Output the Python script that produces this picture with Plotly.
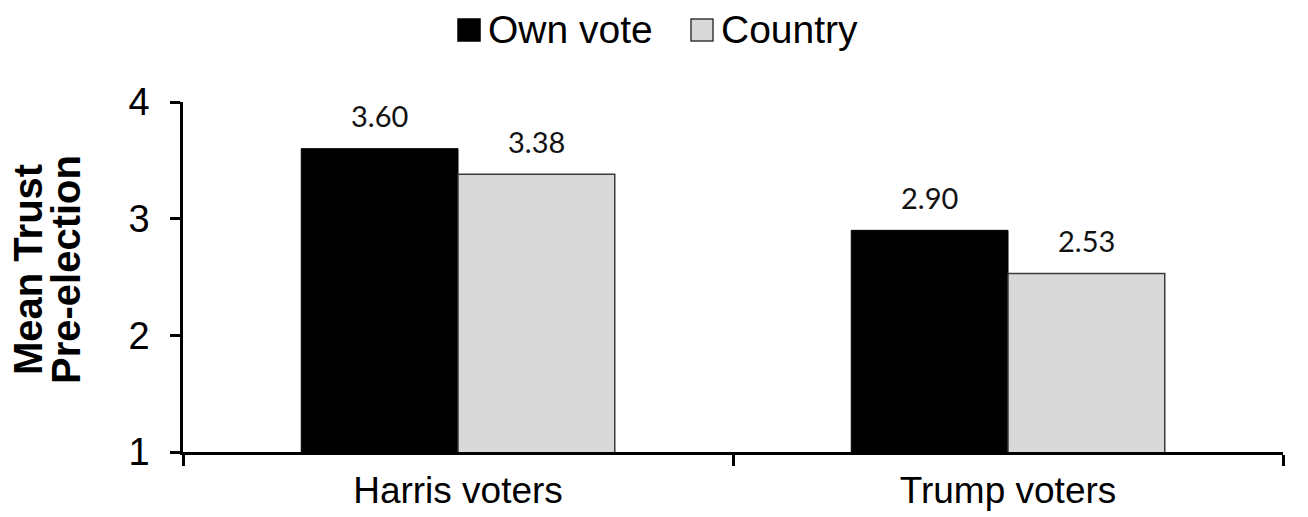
import plotly.graph_objects as go

# Mean pre-election trust by voter group
groups = ["Harris voters", "Trump voters"]
own_vote = [3.60, 2.90]
country = [3.38, 2.53]
series_names = ["Own vote", "Country"]
y_ticks = [1, 2, 3, 4]

BLACK = "#000000"
GRAY = "#D9D9D9"
EDGE = "#3A3A3A"
ARIAL = "Liberation Sans, Arial, sans-serif"
LABEL_FONT = "Lato, Carlito, Calibri, sans-serif"

W, H = 1308, 517
M = dict(l=183, r=25, t=102, b=65)
BARGAP = 0.43
pw = W - M["l"] - M["r"]
ph = H - M["t"] - M["b"]

fig = go.Figure()
fig.add_trace(go.Bar(
    x=groups, y=own_vote, name=series_names[0],
    marker=dict(color=BLACK, line=dict(color=BLACK, width=1)),
    showlegend=False,
))
fig.add_trace(go.Bar(
    x=groups, y=country, name=series_names[1],
    marker=dict(color=GRAY, line=dict(color=EDGE, width=1.5)),
    showlegend=False,
))

# Value labels above each bar
half = (1 - BARGAP) / 4
annotations = []
for i, g in enumerate(groups):
    for vals, off in ((own_vote, -half), (country, half)):
        annotations.append(dict(
            x=i + off, y=vals[i], xref="x", yref="y",
            text=f"{vals[i]:.2f}", showarrow=False, yshift=33,
            font=dict(family=LABEL_FONT, size=29, color="#111111"),
        ))

# Two-line y-axis title, one annotation per line
for text, px in (("Mean Trust", 28), ("Pre-election", 66)):
    annotations.append(dict(
        x=(px - M["l"]) / pw, y=(H - M["b"] - 270) / ph,
        xref="paper", yref="paper", text=f"<b>{text}</b>", textangle=-90,
        showarrow=False, xanchor="center", yanchor="middle",
        font=dict(family=ARIAL, size=40, color=BLACK),
    ))

# Legend drawn as swatches and labels across the top
legend_y = (H - M["b"] - 30) / ph
shapes = []
for name, fill, edge, sx, tx in ((series_names[0], BLACK, BLACK, 458, 486),
                                 (series_names[1], GRAY, EDGE, 691, 719)):
    shapes.append(dict(
        type="rect", xref="paper", yref="paper",
        xsizemode="pixel", ysizemode="pixel",
        xanchor=(sx - M["l"]) / pw, yanchor=legend_y,
        x0=0, x1=22, y0=-11, y1=11,
        fillcolor=fill, line=dict(color=edge, width=1.5),
    ))
    annotations.append(dict(
        x=(tx - M["l"]) / pw, y=legend_y, xref="paper", yref="paper",
        text=name, showarrow=False, xanchor="left", yanchor="middle",
        font=dict(family=ARIAL, size=39, color=BLACK),
    ))

fig.update_layout(
    width=W, height=H, margin=M,
    paper_bgcolor="white", plot_bgcolor="white",
    barmode="group", bargap=BARGAP, bargroupgap=0,
    annotations=annotations, shapes=shapes,
    showlegend=False,
)
fig.update_xaxes(
    type="category", tickson="boundaries", automargin=False,
    showline=True, linecolor=BLACK, linewidth=2.5,
    ticks="outside", ticklen=11, tickwidth=2.5, tickcolor=BLACK,
    tickfont=dict(family=ARIAL, size=37, color=BLACK),
    showgrid=False, zeroline=False, ticklabelstandoff=4,
)
fig.update_yaxes(
    range=[1, 4], tickvals=y_ticks, ticktext=[str(t) for t in y_ticks],
    automargin=False,
    showline=True, linecolor=BLACK, linewidth=2.5,
    ticks="outside", ticklen=10, tickwidth=2.5, tickcolor=BLACK,
    tickfont=dict(family=ARIAL, size=38, color=BLACK),
    showgrid=False, zeroline=False, ticklabelstandoff=13,
)

fig.write_html("out.html")
